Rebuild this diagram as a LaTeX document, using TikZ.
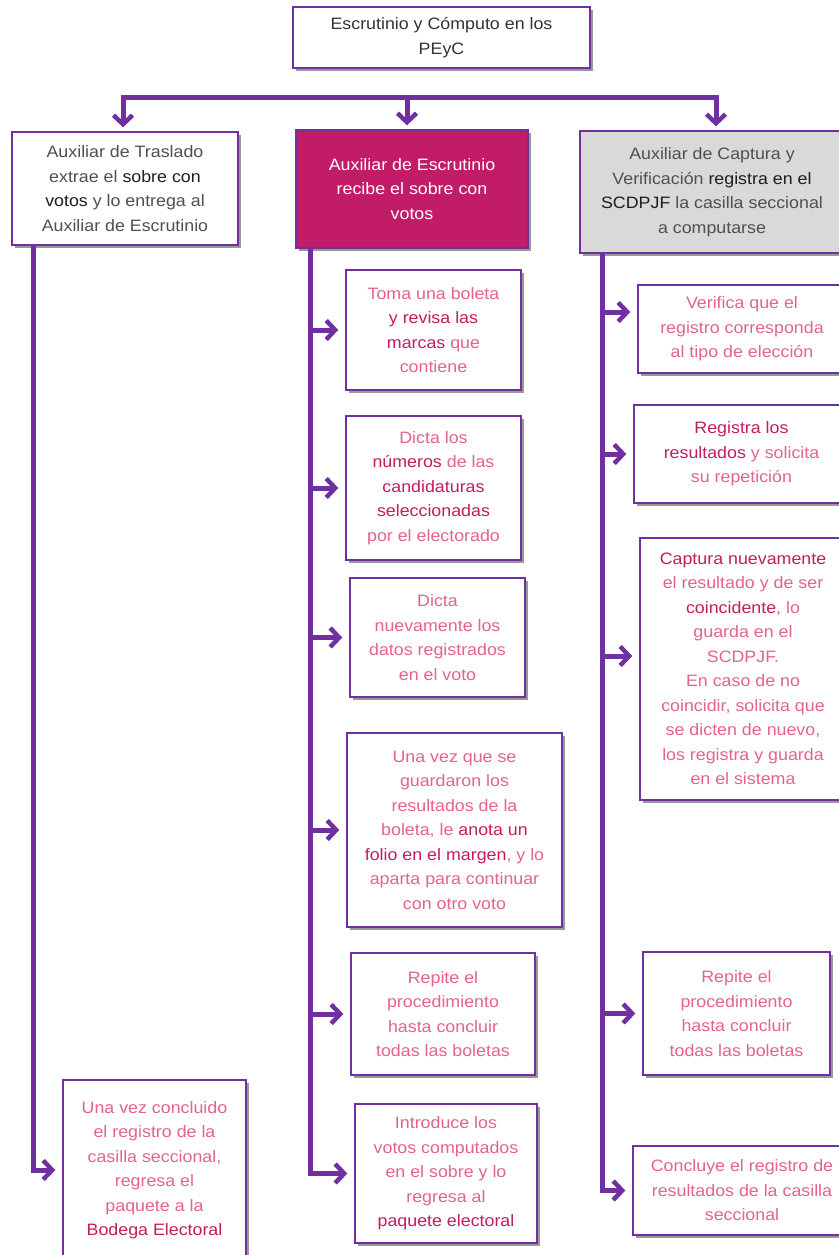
\documentclass[tikz,border=0pt]{standalone}
\usepackage{fontspec}
\setmainfont{Liberation Sans}[FakeStretch=1.08]
\usetikzlibrary{arrows.meta,shadows}
\definecolor{vio}{RGB}{112,48,160}
\definecolor{pinkl}{RGB}{228,100,138}
\definecolor{pinkd}{RGB}{196,28,96}
\definecolor{magbox}{RGB}{194,28,104}
\definecolor{greybox}{RGB}{217,217,217}
\definecolor{txtl}{RGB}{80,80,80}
\definecolor{txtd}{RGB}{30,30,30}
\newcommand{\hd}[1]{\textcolor{pinkd}{#1}}
\newcommand{\hk}[1]{\textcolor{txtd}{#1}}
\tikzset{
  basebox/.style={draw=vio, line width=1.4pt, fill=white, align=center, inner sep=0pt,
    drop shadow={shadow xshift=3pt, shadow yshift=-3pt, fill=black!40, opacity=1},
    font=\fontsize{16.5}{24.5}\selectfont},
  childbox/.style={basebox, text=pinkl},
  headbox/.style={basebox, text=txtl},
  trunk/.style={draw=vio, line width=5pt},
  arr/.style={draw=vio, line width=5pt, shorten >=7pt,
    -{Straight Barb[length=9pt,width=19pt,line width=4.5pt]}},
}
\begin{document}
\begin{tikzpicture}[x=1pt,y=-1pt]
\fill[white] (0,0) rectangle (838,1255);
\useasboundingbox (0,0) rectangle (838,1255);

% top
\node[headbox, text=black!80, minimum width=297pt, minimum height=61pt] (top) at (441.5,37.5)
  {Escrutinio y Cómputo en los\\PEyC};

% headers
\node[headbox, minimum width=226pt, minimum height=113pt] (L) at (125,188.5)
  {Auxiliar de Traslado\\extrae el \hk{sobre con}\\\hk{votos} y lo entrega al\\Auxiliar de Escrutinio};
\node[headbox, fill=magbox, text=white, minimum width=232pt, minimum height=118pt] (M) at (412,189)
  {Auxiliar de Escrutinio\\recibe el sobre con\\votos};
\node[headbox, fill=greybox, minimum width=264pt, minimum height=122pt] (R) at (712,192)
  {Auxiliar de Captura y\\Verificación \hk{registra en el}\\\hk{SCDPJF} la casilla seccional\\a computarse};

% middle column
\node[childbox, minimum width=175pt, minimum height=120pt] (m1) at (433.5,330)
  {Toma una boleta\\\hd{y revisa las}\\\hd{marcas} que\\contiene};
\node[childbox, minimum width=175pt, minimum height=144pt] (m2) at (433.5,488)
  {Dicta los\\\hd{números} de las\\\hd{candidaturas}\\\hd{seleccionadas}\\por el electorado};
\node[childbox, minimum width=175pt, minimum height=119pt] (m3) at (437.5,637.5)
  {Dicta\\nuevamente los\\datos registrados\\en el voto};
\node[childbox, minimum width=215pt, minimum height=194pt] (m4) at (454.5,830)
  {Una vez que se\\guardaron los\\resultados de la\\boleta, le \hd{anota un}\\\hd{folio en el margen}, y lo\\aparta para continuar\\con otro voto};
\node[childbox, minimum width=184pt, minimum height=122pt] (m5) at (443,1014)
  {Repite el\\procedimiento\\hasta concluir\\todas las boletas};
\node[childbox, minimum width=182pt, minimum height=139pt] (m6) at (446,1173.5)
  {Introduce los\\votos computados\\en el sobre y lo\\regresa al\\\hd{paquete electoral}};

% left child
\node[childbox, minimum width=183pt, minimum height=180pt] (lc) at (154.5,1170)
  {Una vez concluido\\el registro de la\\casilla seccional,\\regresa el\\paquete a la\\\hd{Bodega Electoral}};

% right column
\node[childbox, minimum width=208pt, minimum height=88pt] (r1) at (742,329)
  {Verifica que el\\registro corresponda\\al tipo de elección};
\node[childbox, minimum width=215pt, minimum height=98pt] (r2) at (741.5,454)
  {\hd{Registra los}\\\hd{resultados} y solicita\\su repetición};
\node[childbox, minimum width=206pt, minimum height=262pt] (r3) at (743,669)
  {\hd{Captura nuevamente}\\el resultado y de ser\\\hd{coincidente}, lo\\guarda en el\\SCDPJF.\\En caso de no\\coincidir, solicita que\\se dicten de nuevo,\\los registra y guarda\\en el sistema};
\node[childbox, minimum width=187pt, minimum height=123pt] (r4) at (736.5,1013.5)
  {Repite el\\procedimiento\\hasta concluir\\todas las boletas};
\node[childbox, minimum width=218pt, minimum height=89pt] (r5) at (742,1190.5)
  {Concluye el registro de\\resultados de la casilla\\seccional};

% bus
\coordinate (bL) at (123,97);
\coordinate (bM) at (407,97);
\coordinate (bR) at (716,97);
\draw[trunk, line cap=rect] (bL) -- (bR);
\draw[arr, shorten >=4pt] (bL) -- (bL |- L.north);
\draw[arr, shorten >=4pt] (bM) -- (bM |- M.north);
\draw[arr, shorten >=4pt] (bR) -- (bR |- R.north);

% trunks
\coordinate (tL) at (33,0);
\coordinate (tM) at (310,0);
\coordinate (tR) at (602,0);
\coordinate (r1a) at ([yshift=17pt]r1.west);
\coordinate (r3a) at ([yshift=13pt]r3.west);

\draw[arr] (tL |- L.south) -- (tL |- lc.west) -- (lc.west);

\draw[arr] (tM |- M.south) -- (tM |- m6.west) -- (m6.west);
\foreach \n in {m1,m2,m3,m4,m5}
  \draw[arr] (tM |- \n.west) -- (\n.west);

\draw[arr] (tR |- R.south) -- (tR |- r5.west) -- (r5.west);
\draw[arr] (tR |- r1a) -- (r1a);
\draw[arr] (tR |- r2.west) -- (r2.west);
\draw[arr] (tR |- r3a) -- (r3a);
\draw[arr] (tR |- r4.west) -- (r4.west);
\end{tikzpicture}
\end{document}
